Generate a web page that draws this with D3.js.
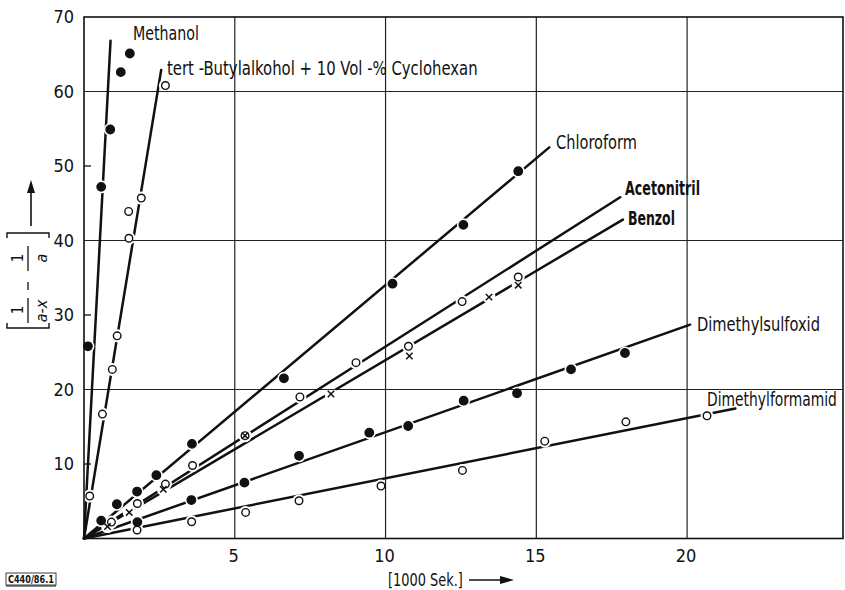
<!DOCTYPE html>
<html><head><meta charset="utf-8">
<script src="https://cdn.jsdelivr.net/npm/d3@7/dist/d3.min.js"></script>
<style>
html,body{margin:0;padding:0;background:#fff;}
text{font-family:"Liberation Sans Narrow","DejaVu Sans Condensed","Liberation Sans",sans-serif;fill:#111;}
</style></head>
<body><svg id="c" width="845" height="590"></svg>
<script>
// ---- data (x in 1000 s, y = 1/(a-x) - 1/a) ----
const xTicks = [5, 10, 15, 20];
const yTicks = [10, 20, 30, 40, 50, 60, 70];
const yGrid = [20, 40, 60];
const xMax = 25.17, yMax = 70;

const methanolX = [0.13, 0.57, 0.87, 1.22, 1.52];
const methanolY = [25.8, 47.2, 54.9, 62.6, 65.1];
const methanolLine = [0.88, 66.8];

const butanolX = [0.19, 0.61, 0.94, 1.10, 1.49, 1.48, 1.90, 2.70];
const butanolY = [5.7, 16.7, 22.7, 27.2, 40.3, 43.9, 45.7, 60.8];
const butanolLine = [2.56, 62.9];

const chloroformX = [0.57, 1.09, 1.76, 2.40, 3.58, 6.63, 10.23, 12.58, 14.40];
const chloroformY = [2.4, 4.6, 6.3, 8.5, 12.7, 21.5, 34.2, 42.1, 49.3];
const chloroformLine = [15.43, 52.5];

const acetonitrilX = [0.91, 1.77, 2.70, 3.60, 5.34, 7.16, 9.02, 10.76, 12.54, 14.40];
const acetonitrilY = [2.2, 4.7, 7.3, 9.8, 13.8, 19.0, 23.6, 25.8, 31.8, 35.1];
const acetonitrilLine = [17.78, 45.8];

const benzolX = [0.78, 1.50, 2.63, 5.34, 8.19, 10.79, 13.43, 14.40];
const benzolY = [1.6, 3.5, 6.6, 13.8, 19.4, 24.5, 32.4, 34.0];
const benzolLine = [17.87, 42.8];

const dmsoX = [1.77, 3.56, 5.32, 7.13, 9.46, 10.75, 12.59, 14.36, 16.15, 17.94];
const dmsoY = [2.2, 5.16, 7.5, 11.1, 14.2, 15.1, 18.5, 19.5, 22.7, 24.9];
const dmsoLine = [20.1, 28.7];

const dmfX = [1.76, 3.57, 5.36, 7.13, 9.85, 12.55, 15.28, 17.97, 20.66];
const dmfY = [1.14, 2.25, 3.5, 5.07, 7.04, 9.14, 13.07, 15.66, 16.47];
const dmfLine = [21.6, 17.46];

const seriesNames = ["Methanol", "tert -Butylalkohol + 10 Vol -% Cyclohexan", "Chloroform",
  "Acetonitril", "Benzol", "Dimethylsulfoxid", "Dimethylformamid"];
const seriesMarkers = ["filled", "open", "filled", "open", "cross", "filled", "open"];
const seriesX = [methanolX, butanolX, chloroformX, acetonitrilX, benzolX, dmsoX, dmfX];
const seriesY = [methanolY, butanolY, chloroformY, acetonitrilY, benzolY, dmsoY, dmfY];
const seriesLine = [methanolLine, butanolLine, chloroformLine, acetonitrilLine, benzolLine, dmsoLine, dmfLine];

// ---- layout ----
const svg = d3.select("#c");
const x = d3.scaleLinear().domain([0, xMax]).range([84, 843]);
const y = d3.scaleLinear().domain([0, yMax]).range([538.5, 17]);

// helper: place text and squeeze it horizontally to a given width
function fitText(sel, px, py, w) {
  const node = sel.node();
  const nat = node.getComputedTextLength() || w;
  const s = Math.min(1.2, w / nat);
  sel.attr("x", 0).attr("y", 0).attr("transform", `translate(${px},${py}) scale(${s},1)`);
}

// grid
svg.append("g").selectAll("line").data(xTicks).join("line")
  .attr("x1", d => x(d)).attr("x2", d => x(d)).attr("y1", y(yMax)).attr("y2", y(0))
  .attr("stroke", "#222").attr("stroke-width", 1.2);
svg.append("g").selectAll("line").data(yGrid).join("line")
  .attr("x1", x(0)).attr("x2", x(xMax)).attr("y1", d => y(d)).attr("y2", d => y(d))
  .attr("stroke", "#222").attr("stroke-width", 1.2);

// frame
svg.append("rect").attr("x", x(0)).attr("y", y(yMax)).attr("width", x(xMax) - x(0)).attr("height", y(0) - y(yMax))
  .attr("fill", "none").attr("stroke", "#111").attr("stroke-width", 1.6);
// minor y ticks
svg.append("g").selectAll("line").data(yTicks.filter(d => yGrid.indexOf(d) < 0 && d < yMax)).join("line")
  .attr("x1", x(0)).attr("x2", x(0) + 7).attr("y1", d => y(d)).attr("y2", d => y(d))
  .attr("stroke", "#111").attr("stroke-width", 1.3);

// tick labels
svg.append("g").selectAll("text").data(yTicks).join("text")
  .attr("x", 74).attr("y", d => y(d)).attr("dy", "0.36em").attr("text-anchor", "end")
  .attr("font-size", 18).text(d => d);
svg.append("g").selectAll("text").data(xTicks).join("text")
  .attr("x", d => x(d) - 1).attr("y", 556).attr("dy", "0.36em").attr("text-anchor", "middle")
  .attr("font-size", 18).text(d => d);

// mask for gaps around markers
const defs = svg.append("defs");
const mask = defs.append("mask").attr("id", "gaps").attr("maskUnits", "userSpaceOnUse")
  .attr("x", 0).attr("y", 0).attr("width", 845).attr("height", 590);
mask.append("rect").attr("width", 845).attr("height", 590).attr("fill", "white");
const allPts = [];
seriesX.forEach((xs, i) => xs.forEach((v, j) => allPts.push({ x: v, y: seriesY[i][j], m: seriesMarkers[i] })));
mask.selectAll("circle").data(allPts).join("circle")
  .attr("cx", d => x(d.x)).attr("cy", d => y(d.y)).attr("r", 6.5).attr("fill", "black");

// regression lines
svg.append("g").attr("mask", "url(#gaps)").selectAll("line").data(seriesLine).join("line")
  .attr("x1", x(0)).attr("y1", y(0)).attr("x2", d => x(d[0])).attr("y2", d => y(d[1]))
  .attr("stroke", "#111").attr("stroke-width", 2.5).attr("stroke-linecap", "round");

// markers
const mg = svg.append("g");
mg.selectAll("circle.f").data(allPts.filter(d => d.m !== "cross")).join("circle")
  .attr("cx", d => x(d.x)).attr("cy", d => y(d.y)).attr("r", d => d.m === "filled" ? 4.2 : 3.8)
  .attr("fill", d => d.m === "filled" ? "#111" : "#fff").attr("stroke", "#111").attr("stroke-width", 1.4);
const crosses = allPts.filter(d => d.m === "cross");
mg.selectAll("path.c").data(crosses).join("path")
  .attr("d", d => { const cx = x(d.x), cy = y(d.y), s = 3.2;
    return `M${cx - s},${cy - s}L${cx + s},${cy + s}M${cx - s},${cy + s}L${cx + s},${cy - s}`; })
  .attr("stroke", "#111").attr("stroke-width", 1.5);

// series labels
const labelPos = [
  { x: 133, y: 33, w: 66, bold: false },
  { x: 167, y: 68, w: 311, bold: false },
  { x: 556, y: 142, w: 81, bold: false },
  { x: 625, y: 188, w: 75, bold: true },
  { x: 628, y: 218, w: 47, bold: true },
  { x: 697, y: 324, w: 123, bold: false },
  { x: 707, y: 399, w: 130, bold: false }
];
const lg = svg.append("g");
seriesNames.forEach((name, i) => {
  const t = lg.append("text").attr("dy", "0.36em").attr("font-size", 19)
    .attr("font-weight", labelPos[i].bold ? "bold" : "normal").text(name);
  fitText(t, labelPos[i].x, labelPos[i].y, labelPos[i].w);
});

// x axis title
const xt = svg.append("text").attr("dy", "0.36em").attr("font-size", 18).text("[1000 Sek.]");
fitText(xt, 388, 580, 75);
svg.append("line").attr("x1", 469).attr("x2", 503).attr("y1", 580).attr("y2", 580)
  .attr("stroke", "#111").attr("stroke-width", 1.6);
svg.append("path").attr("d", "M514,580L500,576L500,584Z").attr("fill", "#111");

// y axis title (rotated)
const yl = svg.append("g").attr("transform", "translate(28,280) rotate(-90)");
yl.append("path").attr("d", "M-43,-21L-48,-21L-48,21L-43,21").attr("fill", "none").attr("stroke", "#111").attr("stroke-width", 1.4);
yl.append("path").attr("d", "M42,-21L47,-21L47,21L42,21").attr("fill", "none").attr("stroke", "#111").attr("stroke-width", 1.4);
yl.append("line").attr("x1", -43).attr("x2", -18).attr("y1", 0).attr("y2", 0).attr("stroke", "#111").attr("stroke-width", 1.3);
yl.append("line").attr("x1", -10).attr("x2", -2).attr("y1", 0).attr("y2", 0).attr("stroke", "#111").attr("stroke-width", 1.3);
yl.append("line").attr("x1", 9).attr("x2", 34).attr("y1", 0).attr("y2", 0).attr("stroke", "#111").attr("stroke-width", 1.3);
yl.append("text").attr("x", -30).attr("y", -5).attr("text-anchor", "middle").attr("font-size", 15).text("1");
yl.append("text").attr("x", -31).attr("y", 19).attr("text-anchor", "middle").attr("font-size", 16).attr("font-style", "italic").text("a-x");
yl.append("text").attr("x", 22).attr("y", -5).attr("text-anchor", "middle").attr("font-size", 15).text("1");
yl.append("text").attr("x", 22).attr("y", 19).attr("text-anchor", "middle").attr("font-size", 16).attr("font-style", "italic").text("a");
svg.append("line").attr("x1", 31).attr("x2", 31).attr("y1", 226).attr("y2", 190).attr("stroke", "#111").attr("stroke-width", 1.6);
svg.append("path").attr("d", "M31,180L27,193L35,193Z").attr("fill", "#111");

// reference code bottom-left
svg.append("rect").attr("x", 6).attr("y", 573).attr("width", 50).attr("height", 12)
  .attr("fill", "none").attr("stroke", "#111").attr("stroke-width", 0.8);
svg.append("line").attr("x1", 6).attr("x2", 56).attr("y1", 586).attr("y2", 586).attr("stroke", "#111").attr("stroke-width", 1.2);
const ct = svg.append("text").attr("dy", "0.36em").attr("font-size", 10).attr("font-weight", "bold").text("C440/86.1");
fitText(ct, 8, 579, 46);
</script></body></html>
